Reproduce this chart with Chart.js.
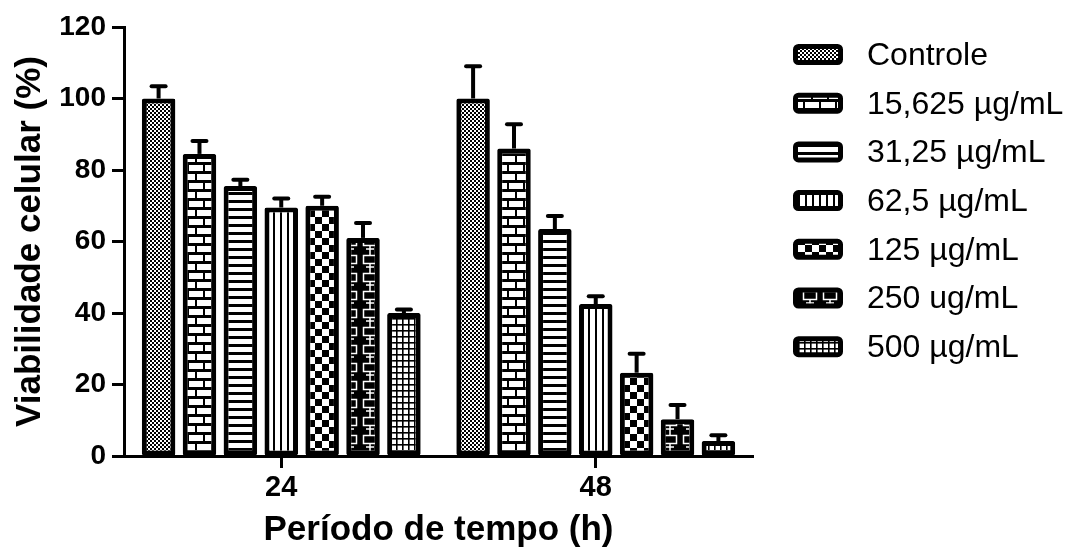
<!DOCTYPE html>
<html>
<head>
<meta charset="utf-8">
<script src="https://cdn.jsdelivr.net/npm/chart.js@4.4.1/dist/chart.umd.min.js"></script>
<style>
  html, body { margin: 0; padding: 0; background: #fff; }
  canvas { display: block; }
</style>
</head>
<body>
<canvas id="bar-chart" width="1080" height="553"></canvas>
<script>
// categorias (periodo de tempo)
var categories = ['24', '48'];
var seriesNames = ['Controle', '15,625 µg/mL', '31,25 µg/mL', '62,5 µg/mL', '125 µg/mL', '250 ug/mL', '500 µg/mL'];

// viabilidade media (%)
var controle = [100, 100];
var c15 = [84.5, 86];
var c31 = [75.5, 63.5];
var c62 = [69.5, 42.5];
var c125 = [70, 23.3];
var c250 = [61, 10.3];
var c500 = [40, 4.2];

// desvio (so para cima)
var controleErr = [3.4, 9];
var c15Err = [3.6, 6.8];
var c31Err = [1.8, 3.6];
var c62Err = [2.5, 2.2];
var c125Err = [2.5, 5.3];
var c250Err = [4.2, 4];
var c500Err = [1, 1.6];

var yTicks = [0, 20, 40, 60, 80, 100, 120];

var canvas = document.getElementById('bar-chart');
var ctx = canvas.getContext('2d');

function makePattern(w, h, draw) {
  var c = document.createElement('canvas');
  c.width = w;
  c.height = h;
  var g = c.getContext('2d');
  draw(g, w, h);
  return ctx.createPattern(c, 'repeat');
}

var patterns = [
  // xadrez fino
  makePattern(4, 4, function (g) {
    g.fillStyle = '#000'; g.fillRect(0, 0, 4, 4);
    g.fillStyle = '#fff'; g.fillRect(0, 0, 2, 2); g.fillRect(2, 2, 2, 2);
  }),
  // tijolos
  makePattern(16, 18, function (g) {
    g.fillStyle = '#fff'; g.fillRect(0, 0, 16, 18);
    g.fillStyle = '#000';
    g.fillRect(0, 0, 16, 3); g.fillRect(11, 3, 2, 6);
    g.fillRect(0, 9, 16, 3); g.fillRect(3, 12, 2, 6);
  }),
  // linhas horizontais
  makePattern(4, 8, function (g) {
    g.fillStyle = '#fff'; g.fillRect(0, 0, 4, 8);
    g.fillStyle = '#000'; g.fillRect(0, 0, 4, 3);
  }),
  // linhas verticais
  makePattern(7, 4, function (g) {
    g.fillStyle = '#fff'; g.fillRect(0, 0, 7, 4);
    g.fillStyle = '#000'; g.fillRect(0, 0, 2, 4);
  }),
  // xadrez grande
  makePattern(14, 14, function (g) {
    g.fillStyle = '#fff'; g.fillRect(0, 0, 14, 14);
    g.fillStyle = '#000'; g.fillRect(0, 0, 7, 7); g.fillRect(7, 7, 7, 7);
  }),
  // retangulos vazados
  makePattern(20, 18, function (g) {
    g.fillStyle = '#000'; g.fillRect(0, 0, 20, 18);
    g.strokeStyle = '#fff'; g.lineWidth = 1.5;
    g.strokeRect(3.5, 3.5, 13, 8);
    g.beginPath();
    g.moveTo(10, 11.5); g.lineTo(10, 18);
    g.moveTo(10, 0); g.lineTo(10, 3.5);
    g.moveTo(6, 15); g.lineTo(14, 15);
    g.stroke();
  }),
  // grade
  makePattern(6, 6, function (g) {
    g.fillStyle = '#fff'; g.fillRect(0, 0, 6, 6);
    g.fillStyle = '#000'; g.fillRect(0, 0, 6, 1.6); g.fillRect(0, 0, 1.6, 6);
  })
];

var values = [controle, c15, c31, c62, c125, c250, c500];
var errors = [controleErr, c15Err, c31Err, c62Err, c125Err, c250Err, c500Err];

var datasets = seriesNames.map(function (name, i) {
  return {
    label: name,
    data: values[i],
    errors: errors[i],
    backgroundColor: patterns[i],
    borderColor: '#000',
    borderWidth: 5,
    borderRadius: 2,
    borderSkipped: false,
    categoryPercentage: 0.91,
    barPercentage: 0.82
  };
});

// barras de erro desenhadas pela escala y
var errorBars = {
  id: 'errorBars',
  afterDatasetsDraw: function (chart) {
    var c = chart.ctx;
    var yScale = chart.scales.y;
    chart.data.datasets.forEach(function (ds, i) {
      var meta = chart.getDatasetMeta(i);
      meta.data.forEach(function (bar, j) {
        var top = yScale.getPixelForValue(ds.data[j] + ds.errors[j]);
        c.save();
        c.strokeStyle = '#000';
        c.lineWidth = 4;
        c.beginPath();
        c.moveTo(bar.x, bar.y);
        c.lineTo(bar.x, top);
        c.stroke();
        c.lineCap = 'round';
        c.beginPath();
        c.moveTo(bar.x - 7, top);
        c.lineTo(bar.x + 7, top);
        c.stroke();
        c.restore();
      });
    });
  }
};

// legenda a direita, desenhada a mao
var sideLegend = {
  id: 'sideLegend',
  afterDraw: function (chart) {
    var c = chart.ctx;
    var left = chart.chartArea.right + 40;
    var top = 44, step = 48.7, bw = 50, bh = 21;
    c.save();
    chart.data.datasets.forEach(function (ds, i) {
      var y = top + i * step;
      c.beginPath();
      c.roundRect(left + 2.5, y + 2.5, bw - 5, bh - 5, 3);
      c.fillStyle = ds.backgroundColor;
      c.fill();
      c.lineWidth = 5;
      c.strokeStyle = '#000';
      c.stroke();
      c.fillStyle = '#000';
      c.font = "32px 'Liberation Sans', Arial, sans-serif";
      c.textBaseline = 'middle';
      c.textAlign = 'left';
      c.fillText(ds.label, left + 74, y + bh / 2 + 1.5);
    });
    c.restore();
  }
};

Chart.defaults.font.family = "'Liberation Sans', Arial, sans-serif";
Chart.defaults.color = '#000';

var chart = new Chart(ctx, {
  type: 'bar',
  data: { labels: categories, datasets: datasets },
  plugins: [errorBars, sideLegend],
  options: {
    responsive: false,
    animation: false,
    layout: { padding: { left: 6, right: 327, top: 27, bottom: 0 } },
    plugins: {
      tooltip: { enabled: false },
      legend: { display: false }
    },
    scales: {
      x: {
        offset: true,
        grid: { display: true, offset: false, drawOnChartArea: false, drawTicks: true, tickLength: 12, tickWidth: 3, tickColor: '#000', color: '#000' },
        border: { display: true, color: '#000', width: 3 },
        ticks: { font: { size: 29, weight: 'bold' }, padding: 3, color: '#000' },
        title: { display: true, text: 'Período de tempo (h)', font: { size: 35, weight: 'bold' }, color: '#000', padding: { top: 4, bottom: 2 } },
        afterFit: function (s) { s.height = 97; }
      },
      y: {
        min: 0,
        max: 120,
        afterBuildTicks: function (s) { s.ticks = yTicks.map(function (v) { return { value: v }; }); },
        grid: { display: true, drawOnChartArea: false, drawTicks: true, tickLength: 12, tickWidth: 3, tickColor: '#000', color: '#000' },
        border: { display: true, color: '#000', width: 3 },
        ticks: { font: { size: 28, weight: 'bold' }, padding: 6, color: '#000' },
        title: { display: true, text: 'Viabilidade celular (%)', font: { size: 35, weight: 'bold' }, color: '#000', padding: { top: 3, bottom: 4 } },
        afterFit: function (s) { s.width = 118; }
      }
    }
  }
});
</script>
</body>
</html>
